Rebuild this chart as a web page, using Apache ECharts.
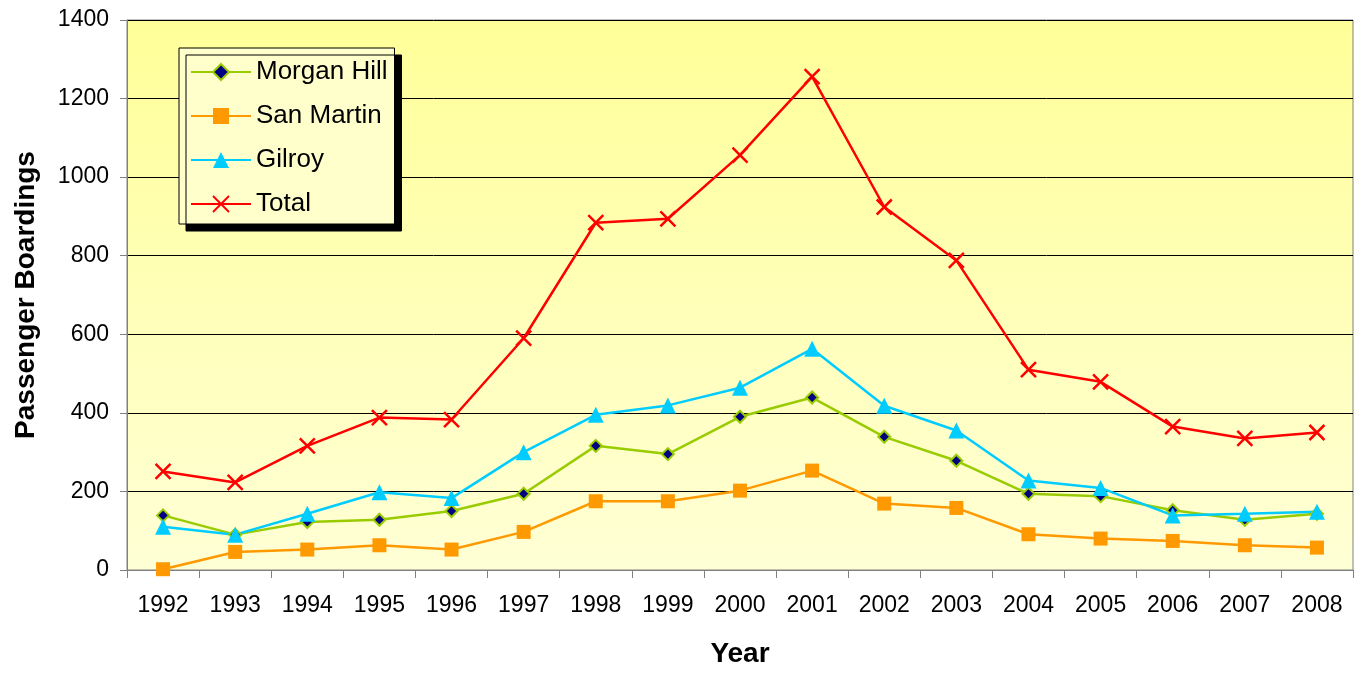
<!DOCTYPE html>
<html><head><meta charset="utf-8">
<script src="https://cdn.jsdelivr.net/npm/echarts@6/dist/echarts.min.js"></script>
<style>html,body{margin:0;padding:0;background:#fff}#c{width:1354px;height:673px}</style>
</head><body><div id="c"></div>
<script>
const years = ['1992','1993','1994','1995','1996','1997','1998','1999','2000','2001','2002','2003','2004','2005','2006','2007','2008'];
const morganHill = [139,90,122,128,150,194,316,295,390,439,339,278,194,188,152,128,143];
const sanMartin = [2,46,52,63,52,97,175,175,202,253,169,158,91,80,74,63,57];
const gilroy = [110,90,143,198,183,300,395,419,464,563,418,355,228,209,139,143,148];
const total = [251,223,316,388,383,590,884,894,1056,1256,924,788,510,479,365,335,350];

const font = 'Liberation Sans, Arial, sans-serif';
const chart = echarts.init(document.getElementById('c'));
chart.setOption({
  animation: false,
  backgroundColor: '#ffffff',
  grid: {left: 127, right: 1, top: 20, bottom: 100, show: true,
    backgroundColor: new echarts.graphic.LinearGradient(0,0,0,1,[{offset:0,color:'#FFFF99'},{offset:1,color:'#FFFFD6'}]),
    borderColor: '#808080', borderWidth: 1},
  legend: {
    orient: 'vertical', left: 179, top: 48, itemGap: 18, itemWidth: 60, itemHeight: 20,
    padding: [11, 7, 7, 11],
    backgroundColor: '#FFFFCC', borderColor: '#000', borderWidth: 1,
    shadowColor: '#000', shadowBlur: 0, shadowOffsetX: 7, shadowOffsetY: 7,
    textStyle: {fontFamily: font, fontSize: 26, color: '#000', lineHeight: 26},
    data: ['Morgan Hill','San Martin','Gilroy','Total']
  },
  xAxis: {
    type: 'category', data: years, boundaryGap: true,
    name: 'Year', nameLocation: 'middle', nameGap: 70,
    nameTextStyle: {fontFamily: font, fontSize: 28, fontWeight: 'bold', color: '#000'},
    axisLine: {lineStyle: {color: '#808080', width: 1}},
    axisTick: {show: true, inside: false, length: 8, alignWithLabel: false, lineStyle: {color: '#808080'}},
    axisLabel: {fontFamily: font, fontSize: 23, color: '#000', margin: 24},
    splitLine: {show: false}
  },
  yAxis: {
    type: 'value', min: 0, max: 1400, interval: 200,
    name: 'Passenger Boardings', nameLocation: 'middle', nameGap: 87, nameRotate: 90,
    nameTextStyle: {fontFamily: font, fontSize: 28, fontWeight: 'bold', color: '#000'},
    axisLine: {show: true, lineStyle: {color: '#808080', width: 1}},
    axisTick: {show: true, length: 7, lineStyle: {color: '#808080'}},
    axisLabel: {fontFamily: font, fontSize: 23, color: '#000', margin: 18, formatter: v => String(v)},
    splitLine: {show: true, lineStyle: {color: '#000', width: 1}}
  },
  series: [
    {name: 'Morgan Hill', type: 'line', data: morganHill, symbol: 'diamond', symbolSize: 12,
      lineStyle: {color: '#99CC00', width: 2.5},
      itemStyle: {color: '#000080', borderColor: '#99CC00', borderWidth: 2}},
    {name: 'San Martin', type: 'line', data: sanMartin, symbol: 'rect', symbolSize: 14,
      lineStyle: {color: '#FF9900', width: 2.5},
      itemStyle: {color: '#FF9900', borderColor: '#FF9900', borderWidth: 0}},
    {name: 'Gilroy', type: 'line', data: gilroy, symbol: 'triangle', symbolSize: 16,
      lineStyle: {color: '#00CCFF', width: 2.5},
      itemStyle: {color: '#00CCFF', borderColor: '#00CCFF', borderWidth: 0}},
    {name: 'Total', type: 'line', data: total, symbol: 'path://M0,0L10,10M10,0L0,10', symbolSize: 15,
      lineStyle: {color: '#FF0000', width: 2.5},
      itemStyle: {color: 'none', borderColor: '#FF0000', borderWidth: 2.5}}
  ]
});
</script></body></html>
